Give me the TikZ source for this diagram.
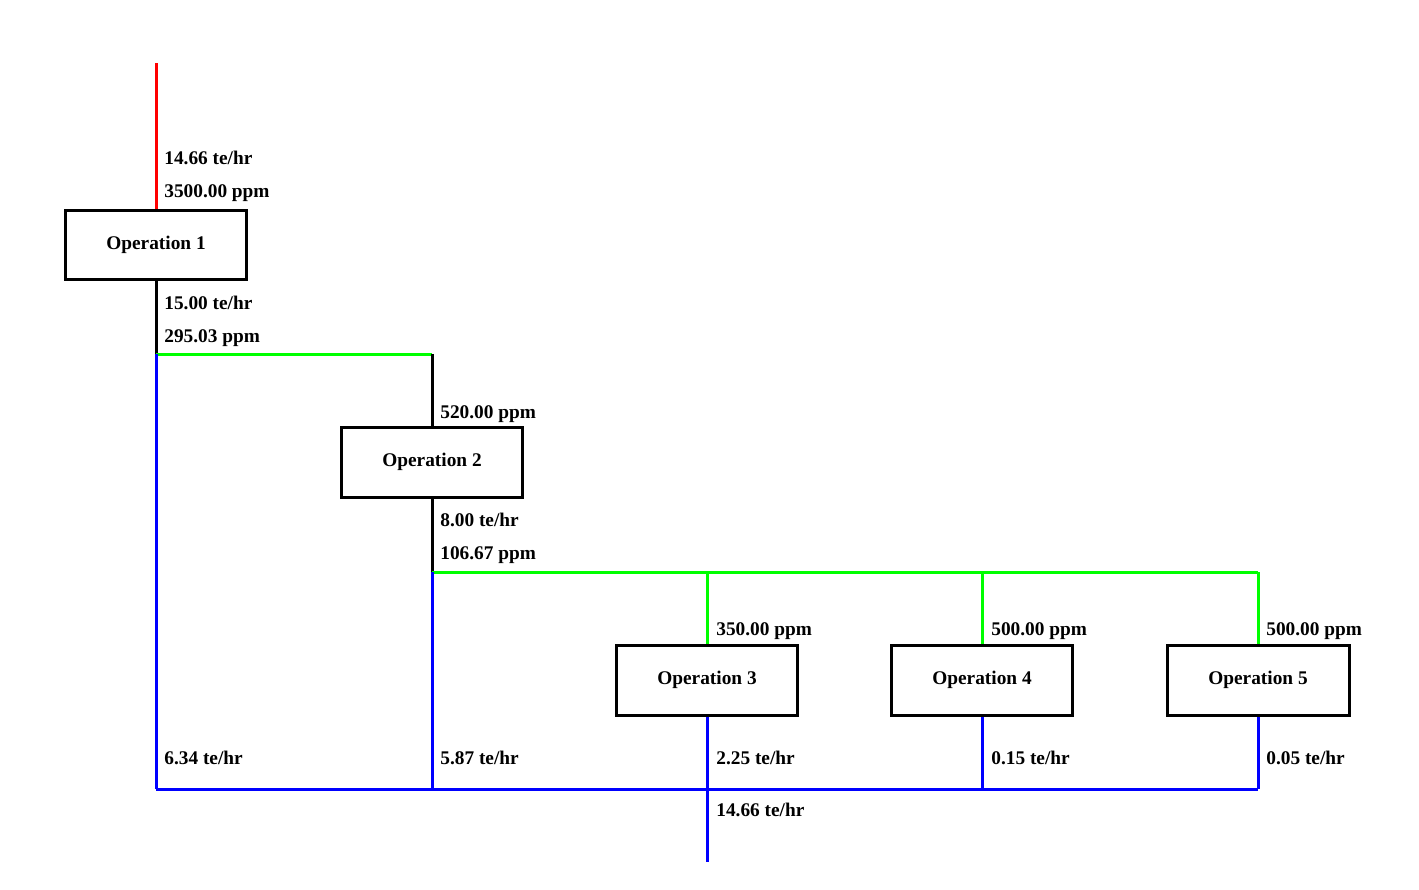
\documentclass[tikz,border=0pt]{standalone}
\usepackage{fontspec}
\setmainfont{Liberation Serif}
\usetikzlibrary{positioning}
\newcommand{\streamLabel}[4]{%%
  \node[labelStyle] (#1) at (#2,#3) {#4};
}
\newcommand{\operationBox}[4]{%%
  \node[opStyle] (#1) at (#2,#3) {Operation #4};
}
\begin{document}
\begin{tikzpicture}[x=0.02cm,y=-0.02cm,%%
  opStyle/.style={draw,line width=0.06cm,fill=white,minimum width=3.64cm,minimum height=1.4cm,inner sep=0pt,font=\fontsize{11}{13}\selectfont\bfseries},%%
  labelStyle/.style={anchor=base west,inner sep=0pt,font=\fontsize{11}{13}\selectfont\bfseries},%%
  redStyle/.style={-,red,line width=0.06cm},%%
  blackStyle/.style={-,black,line width=0.06cm},%%
  greenStyle/.style={-,green,line width=0.06cm},%%
  blueStyle/.style={-,blue,line width=0.06cm}
]
\useasboundingbox (0,0) rectangle (1419,889);
%%
%% Junction points.
\coordinate (feed) at (156,63);
\coordinate (split1) at (156,354);
\coordinate (reuse1) at (432,354);
\coordinate (split2) at (432,572);
\coordinate (reuse3) at (707,572);
\coordinate (reuse4) at (982,572);
\coordinate (reuse5) at (1258,572);
\coordinate (drain1) at (156,789);
\coordinate (drain2) at (432,789);
\coordinate (drain3) at (707,789);
\coordinate (drain4) at (982,789);
\coordinate (drain5) at (1258,789);
\coordinate (effluent) at (707,862);
%%
%% The operations.
\operationBox{op1}{156}{245}{1}
\operationBox{op2}{432}{462}{2}
\operationBox{op3}{707}{680}{3}
\operationBox{op4}{982}{680}{4}
\operationBox{op5}{1258}{680}{5}
%%
%% Fresh water and reuse.
\draw[redStyle] (feed) -- (op1.north);
\draw[blackStyle] (op1.south) -- (split1);
\draw[greenStyle] (split1) -- (reuse1);
\draw[blackStyle] (reuse1) -- (op2.north);
\draw[blackStyle] (op2.south) -- (split2);
\draw[greenStyle] (split2) -- (reuse5);
\foreach \i in {3,4,5}{
  \draw[greenStyle] (reuse\i) -- (op\i.north);
};
%%
%% Waste water.
\draw[blueStyle] (split1) -- (drain1);
\draw[blueStyle] (split2) -- (drain2);
\foreach \i in {3,4,5}{
  \draw[blueStyle] (op\i.south) -- (drain\i);
};
\draw[blueStyle] (drain1) -- (drain5);
\draw[blueStyle] (drain3) -- (effluent);
%%
%% Stream labels.
\streamLabel{feedFlow}{164}{164}{14.66 te/hr}
\streamLabel{feedConc}{164}{197}{3500.00 ppm}
\streamLabel{outFlow1}{164}{309}{15.00 te/hr}
\streamLabel{outConc1}{164}{342}{295.03 ppm}
\streamLabel{inConc2}{440}{418}{520.00 ppm}
\streamLabel{outFlow2}{440}{526}{8.00 te/hr}
\streamLabel{outConc2}{440}{559}{106.67 ppm}
\streamLabel{inConc3}{716}{635}{350.00 ppm}
\streamLabel{inConc4}{991}{635}{500.00 ppm}
\streamLabel{inConc5}{1266}{635}{500.00 ppm}
\streamLabel{drainFlow1}{164}{764}{6.34 te/hr}
\streamLabel{drainFlow2}{440}{764}{5.87 te/hr}
\streamLabel{drainFlow3}{716}{764}{2.25 te/hr}
\streamLabel{drainFlow4}{991}{764}{0.15 te/hr}
\streamLabel{drainFlow5}{1266}{764}{0.05 te/hr}
\streamLabel{effluentFlow}{716}{816}{14.66 te/hr}
\end{tikzpicture}
\end{document}
